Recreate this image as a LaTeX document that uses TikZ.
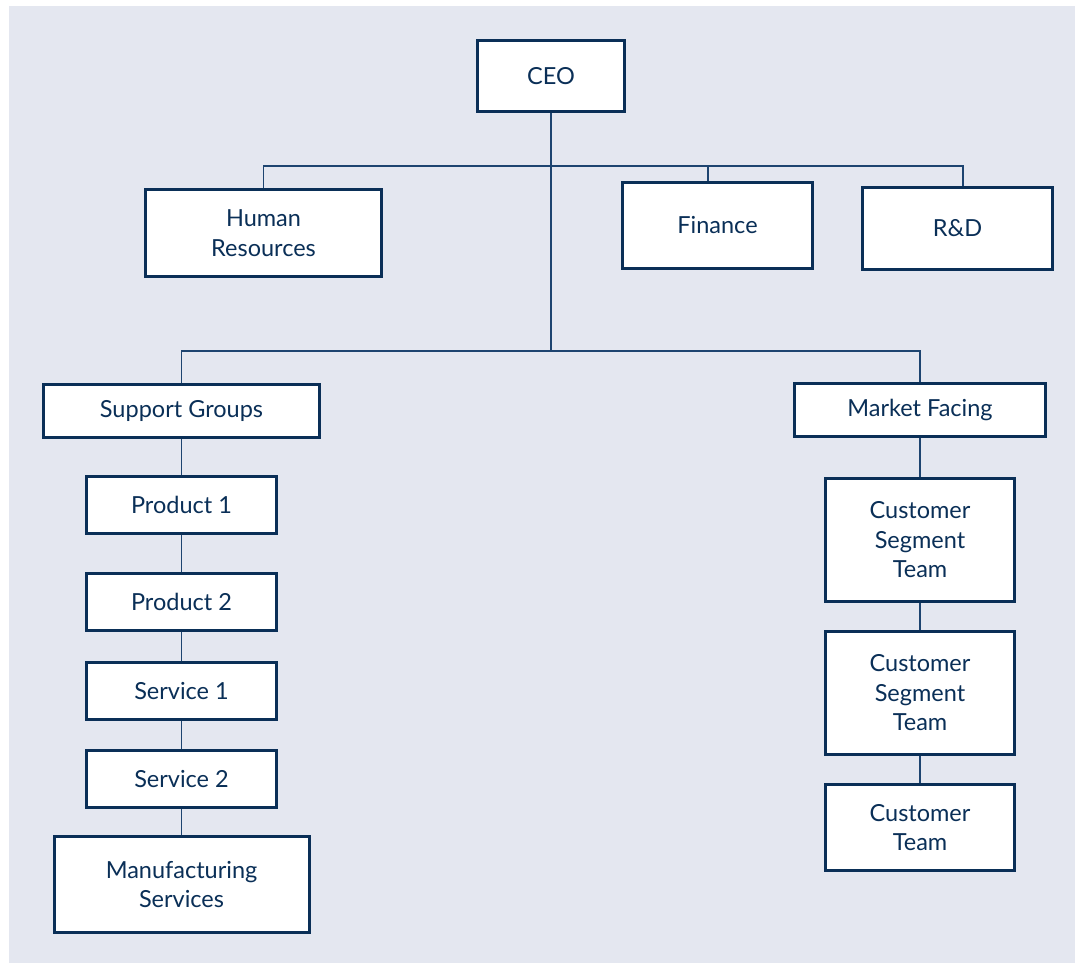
\documentclass[tikz,border=0pt]{standalone}
\usepackage{fontspec}
\setmainfont{Lato}
\definecolor{bgc}{HTML}{E4E7F0}
\definecolor{navy}{HTML}{0A2F57}
\definecolor{linec}{HTML}{1D4470}
\begin{document}
\begin{tikzpicture}[x=1pt,y=-1pt,
  box/.style={draw=navy,line width=3pt,fill=white,inner sep=0pt,align=center,
    text=navy,font=\fontsize{23.5}{29.5}\selectfont},
  conn/.style={draw=linec,line width=1.3pt}]
\useasboundingbox (0,0) rectangle (1075,963);
\fill[bgc] (9,6) rectangle (1075,963);
% nodes
\node[box,minimum width=147,minimum height=71] (ceo) at (551,76) {CEO};
\node[box,minimum width=236,minimum height=87] (hr) at (263.5,233) {Human\\Resources};
\node[box,minimum width=190,minimum height=86] (fin) at (717.5,225.5) {Finance};
\node[box,minimum width=190,minimum height=82] (rd) at (957.5,228.5) {R\&D};
\node[box,minimum width=276,minimum height=53] (sg) at (181.5,411) {Support Groups};
\node[box,minimum width=251,minimum height=53] (mf) at (920,410) {Market Facing};
\node[box,minimum width=190,minimum height=57] (p1) at (181.5,505) {Product 1};
\node[box,minimum width=190,minimum height=57] (p2) at (181.5,602) {Product 2};
\node[box,minimum width=190,minimum height=57] (s1) at (181.5,691) {Service 1};
\node[box,minimum width=190,minimum height=57] (s2) at (181.5,779) {Service 2};
\node[box,minimum width=255,minimum height=96] (ms) at (181.5,884.5) {Manufacturing\\Services};
\node[box,minimum width=189,minimum height=123] (cs1) at (920,540) {Customer\\Segment\\Team};
\node[box,minimum width=189,minimum height=123] (cs2) at (920,693) {Customer\\Segment\\Team};
\node[box,minimum width=189,minimum height=86] (ct) at (920,827.5) {Customer\\Team};
% junctions
\coordinate (j1) at (551,166);
\coordinate (j2) at (551,351);
\coordinate (finx) at (708,166);
\coordinate (rdx) at (963,166);
% connectors
\draw[conn] (ceo.south) -- (j2);
\draw[conn] (hr.north) -- (hr.north |- j1) -- (rdx) -- (rdx |- rd.north);
\draw[conn] (finx) -- (finx |- fin.north);
\draw[conn] (sg.north) -- (sg.north |- j2) -- (mf.north |- j2) -- (mf.north);
\draw[conn] (sg.south) -- (p1.north);
\draw[conn] (p1.south) -- (p2.north);
\draw[conn] (p2.south) -- (s1.north);
\draw[conn] (s1.south) -- (s2.north);
\draw[conn] (s2.south) -- (ms.north);
\draw[conn] (mf.south) -- (cs1.north);
\draw[conn] (cs1.south) -- (cs2.north);
\draw[conn] (cs2.south) -- (ct.north);
\end{tikzpicture}
\end{document}
